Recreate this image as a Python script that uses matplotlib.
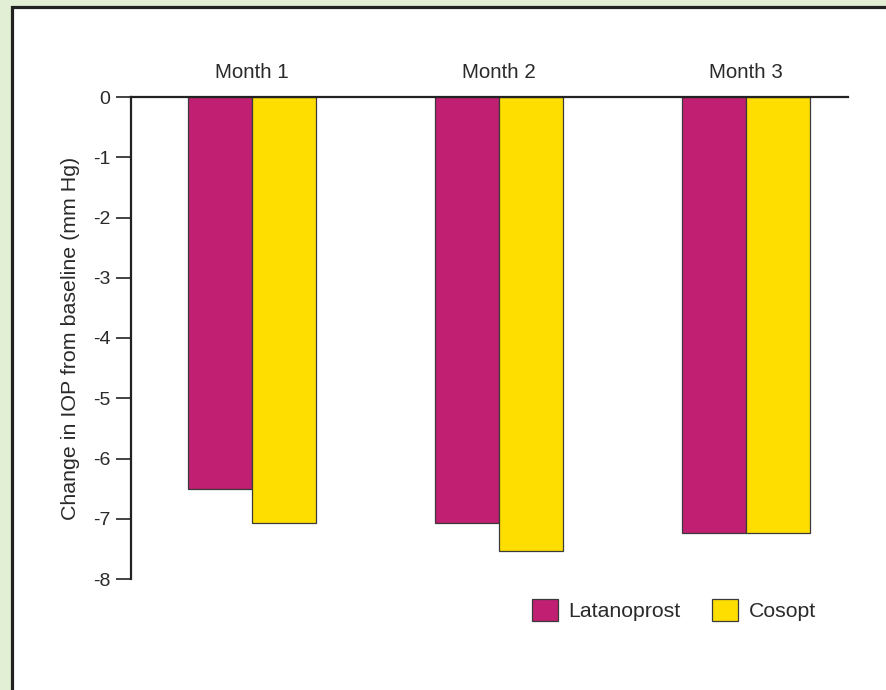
import matplotlib.pyplot as plt
import numpy as np
from matplotlib.patches import Rectangle, Patch

plt.rcParams['font.family'] = ['Liberation Sans', 'DejaVu Sans']

# Datos
months = ['Month 1', 'Month 2', 'Month 3']
latanoprost = [-6.5, -7.07, -7.23]
cosopt = [-7.07, -7.53, -7.23]
series = ['Latanoprost', 'Cosopt']
colors = ['#c01f72', '#fedd00']
yticks = [0, -1, -2, -3, -4, -5, -6, -7, -8]

fig = plt.figure(figsize=(8.87, 6.9), dpi=100)
fig.patch.set_facecolor('#e3efd5')

# panel blanco con borde
W, H = 887.0, 690.0
panel = Rectangle((12.5 / W, -0.1), 1.2, (H - 6.5) / H + 0.1, transform=fig.transFigure,
                  facecolor='white', edgecolor='#222222', linewidth=2.3, zorder=-10)
fig.patches.append(panel)

ax = fig.add_axes([131 / W, 1 - 579 / H, (848 - 131) / W, (579 - 97) / H])
ax.set_facecolor('none')

x = np.arange(len(months))
bw = 64 / 247
ax.bar(x - bw / 2, latanoprost, bw, color=colors[0], edgecolor='#3a3a3a', linewidth=0.9, zorder=2)
ax.bar(x + bw / 2, cosopt, bw, color=colors[1], edgecolor='#3a3a3a', linewidth=0.9, zorder=2)

ax.set_ylim(-8, 0)
ax.set_xlim((131 - 252) / 247, (848 - 252) / 247)
ax.set_yticks(yticks)
ax.set_yticklabels([str(v) for v in yticks], fontsize=14, color='#2a2a2a')
ax.tick_params(axis='y', length=11, width=1.2, color='#222222', pad=4)
ax.set_xticks([])

for s in ['right', 'bottom']:
    ax.spines[s].set_visible(False)
for s in ['left', 'top']:
    ax.spines[s].set_linewidth(1.6)
    ax.spines[s].set_color('#222222')

for i, m in enumerate(months):
    ax.text(x[i], 0.315, m, ha='center', va='baseline', fontsize=14.8, color='#2a2a2a')

ax.set_ylabel('Change in IOP from baseline (mm Hg)', fontsize=15.4, color='#2a2a2a', labelpad=9)

handles = [Patch(facecolor=colors[i], edgecolor='#3a3a3a', linewidth=0.9) for i in range(2)]
ax.legend(handles, series, loc='center left', bbox_to_anchor=(0.538, -0.065), ncol=2, frameon=False,
          fontsize=15.3, handlelength=1.22, handleheight=1.22, columnspacing=1.5, handletextpad=0.5,
          labelcolor='#2a2a2a', borderpad=0.2)

plt.savefig('out.png', dpi=100, facecolor=fig.get_facecolor())
